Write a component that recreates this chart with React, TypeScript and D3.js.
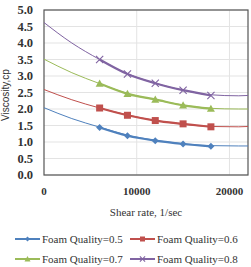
import React, { useEffect, useRef } from "react";
import * as d3 from "d3";

// measured shear rates (markers)
const shearRates = [6000, 9000, 12000, 15000, 18000];
const fq05 = [1.44, 1.19, 1.04, 0.94, 0.87];
const fq06 = [2.03, 1.81, 1.65, 1.55, 1.46];
const fq07 = [2.77, 2.46, 2.29, 2.11, 2.01];
const fq08 = [3.5, 3.06, 2.78, 2.57, 2.41];

// trend curves
const trendRates = [0, 3000, 6000, 9000, 12000, 15000, 18000, 21000, 22000];
const trend05 = [2.04, 1.71, 1.45, 1.21, 1.05, 0.95, 0.89, 0.88, 0.88];
const trend06 = [2.59, 2.28, 2.03, 1.82, 1.65, 1.54, 1.47, 1.46, 1.47];
const trend07 = [3.51, 3.1, 2.77, 2.47, 2.28, 2.12, 2.02, 2.0, 2.0];
const trend08 = [4.62, 4.0, 3.5, 3.07, 2.78, 2.57, 2.43, 2.4, 2.41];

const seriesNames = ["Foam Quality=0.5", "Foam Quality=0.6", "Foam Quality=0.7", "Foam Quality=0.8"];
const colors = ["#4F81BD", "#C0504D", "#9BBB59", "#8064A2"];
const markers = ["diamond", "square", "triangle", "cross"];

const yTicks = [0, 0.5, 1, 1.5, 2, 2.5, 3, 3.5, 4, 4.5, 5];
const xTicks = [0, 10000, 20000];

const App: React.FC = () => {
    const svgRef = useRef<SVGSVGElement>(null);

    const W = 251;
    const H = 267;
    const margin = { top: 10, right: 3, bottom: 92, left: 44 };
    const width = W - margin.left - margin.right;
    const height = H - margin.top - margin.bottom;

    useEffect(() => {
        if (!svgRef.current) return;
        const svg = d3.select(svgRef.current);
        svg.selectAll("*").remove();

        const x = d3.scaleLinear().domain([0, 22000]).range([0, width]);
        const y = d3.scaleLinear().domain([0, 5]).range([height, 0]);

        const g = svg.append("g").attr("transform", `translate(${margin.left},${margin.top})`);

        // grid
        g.selectAll(".hgrid")
            .data(yTicks)
            .enter()
            .append("line")
            .attr("x1", 0)
            .attr("x2", width)
            .attr("y1", (d) => y(d))
            .attr("y2", (d) => y(d))
            .attr("stroke", "#e3e3e3")
            .attr("stroke-width", 1);
        g.selectAll(".vgrid")
            .data(xTicks.slice(1))
            .enter()
            .append("line")
            .attr("x1", (d) => x(d))
            .attr("x2", (d) => x(d))
            .attr("y1", 0)
            .attr("y2", height)
            .attr("stroke", "#e3e3e3");

        // frame
        g.append("rect")
            .attr("x", 0)
            .attr("y", 0)
            .attr("width", width)
            .attr("height", height)
            .attr("fill", "none")
            .attr("stroke", "#555")
            .attr("stroke-width", 1.2);

        // y axis labels
        g.selectAll(".ylab")
            .data(yTicks)
            .enter()
            .append("text")
            .attr("x", -11)
            .attr("y", (d) => y(d))
            .attr("dy", "0.35em")
            .attr("text-anchor", "end")
            .attr("font-family", "Liberation Serif, serif")
            .attr("font-weight", "bold")
            .attr("font-size", 12.5)
            .attr("fill", "#333")
            .text((d) => d.toFixed(1));

        // x axis labels
        g.selectAll(".xlab")
            .data(xTicks)
            .enter()
            .append("text")
            .attr("x", (d) => x(d))
            .attr("y", height + 20)
            .attr("text-anchor", "middle")
            .attr("font-family", "Liberation Serif, serif")
            .attr("font-weight", "bold")
            .attr("font-size", 11)
            .attr("fill", "#333")
            .text((d) => String(d));

        // axis titles
        svg.append("text")
            .attr("x", 146)
            .attr("y", 216)
            .attr("text-anchor", "middle")
            .attr("font-family", "Liberation Serif, serif")
            .attr("font-size", 11)
            .attr("fill", "#333")
            .text("Shear rate, 1/sec");

        svg.append("text")
            .attr("transform", "translate(9,95) rotate(-90)")
            .attr("text-anchor", "middle")
            .attr("font-family", "Liberation Sans, sans-serif")
            .attr("font-size", 10)
            .attr("fill", "#333")
            .text("Viscosity,cp");

        const data = [fq05, fq06, fq07, fq08];
        const trends = [trend05, trend06, trend07, trend08];

        const line = d3
            .line<[number, number]>()
            .x((d) => x(d[0]))
            .y((d) => y(d[1]))
            .curve(d3.curveMonotoneX);

        const drawMarker = (sel: any, kind: string, color: string, s: number) => {
            if (kind === "diamond") {
                sel.append("path").attr("d", `M0,${-s}L${s},0L0,${s}L${-s},0Z`).attr("fill", color);
            } else if (kind === "square") {
                sel.append("rect").attr("x", -s).attr("y", -s).attr("width", 2 * s).attr("height", 2 * s).attr("fill", color);
            } else if (kind === "triangle") {
                sel.append("path").attr("d", `M0,${-s}L${s},${s * 0.8}L${-s},${s * 0.8}Z`).attr("fill", color);
            } else {
                sel.append("path")
                    .attr("d", `M${-s},${-s}L${s},${s}M${-s},${s}L${s},${-s}`)
                    .attr("stroke", color)
                    .attr("stroke-width", 1.1)
                    .attr("fill", "none");
            }
        };

        const sizes = [3.5, 3.5, 4, 3.6];

        data.forEach((vals, i) => {
            const tr = trendRates.map((r, j) => [r, trends[i][j]] as [number, number]);
            g.append("path")
                .attr("d", line(tr) || "")
                .attr("fill", "none")
                .attr("stroke", colors[i])
                .attr("stroke-width", 1);

            const pts = shearRates.map((r, j) => [r, vals[j]] as [number, number]);
            g.append("path")
                .attr("d", line(pts) || "")
                .attr("fill", "none")
                .attr("stroke", colors[i])
                .attr("stroke-width", 2.2);

            pts.forEach((p) => {
                const m = g.append("g").attr("transform", `translate(${x(p[0])},${y(p[1])})`);
                drawMarker(m, markers[i], colors[i], sizes[i]);
            });
        });

        // legend
        const legendPos = [
            [15, 239],
            [130, 239],
            [15, 259],
            [130, 259],
        ];
        seriesNames.forEach((name, i) => {
            const [lx, ly] = legendPos[i];
            const lg = svg.append("g").attr("transform", `translate(${lx},${ly})`);
            lg.append("line")
                .attr("x1", 0)
                .attr("x2", 25)
                .attr("stroke", colors[i])
                .attr("stroke-width", 2);
            const m = lg.append("g").attr("transform", "translate(12.5,0)");
            drawMarker(m, markers[i], colors[i], sizes[i] - 1);
            lg.append("text")
                .attr("x", 27)
                .attr("dy", "0.35em")
                .attr("font-family", "Liberation Serif, serif")
                .attr("font-size", 11)
                .attr("fill", "#333")
                .text(name);
        });
    }, []);

    return (
        <svg
            ref={svgRef}
            width={W}
            height={H}
            style={{ position: "absolute", left: 0, top: 0, background: "#fff" }}
        />
    );
};

export default App;
